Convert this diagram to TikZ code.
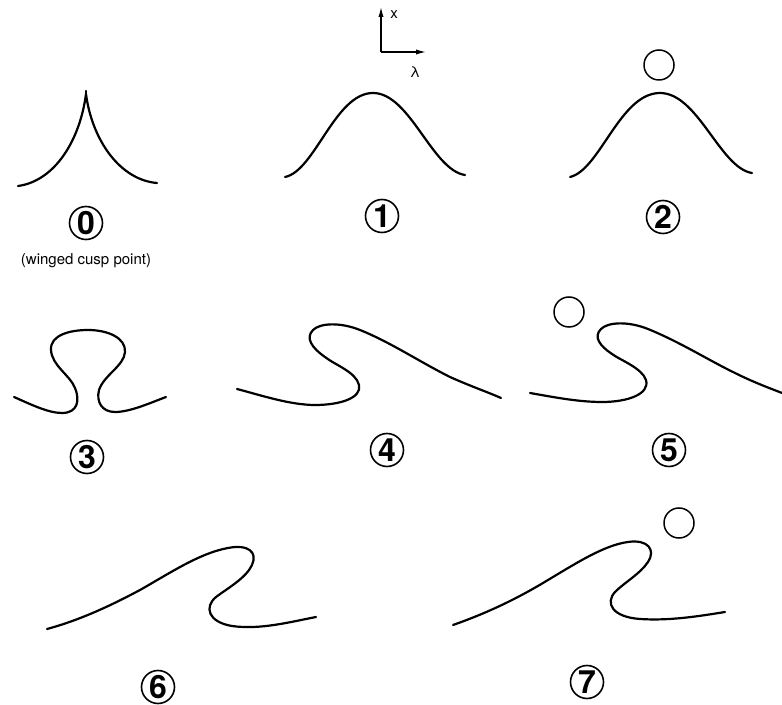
\documentclass[tikz,border=0pt]{standalone}
\usepackage{fontspec}
\setmainfont{TeX Gyre Heros}
\usetikzlibrary{arrows.meta}
\begin{document}
\begin{tikzpicture}[x=0.5pt,y=-0.5pt,
  curve/.style={line width=1.1pt, line cap=round, line join=round},
  ball/.style={circle, draw, line width=0.75pt, minimum size=15pt, inner sep=0pt},
  num/.style={circle, draw, line width=0.8pt, minimum size=16.5pt, inner sep=0pt, font=\bfseries\fontsize{16}{16}\selectfont},
  axis/.style={line width=0.6pt, -{Latex[length=5pt,width=2.6pt]}},
  small/.style={font=\fontsize{7.5}{8}\selectfont, inner sep=0pt}]
\useasboundingbox (0,0) rectangle (782,705);

% axes
\coordinate (o) at (381,52);
\coordinate (xa) at (381,7);
\coordinate (la) at (426,52);
\draw[axis] (o) -- (xa);
\draw[axis] (o) -- (la);
\node[small] (xl) at (394,15) {x};
\node[small] (ll) at (415,72) {λ};

% 0 : winged cusp
\draw[curve] (18,186) .. controls (55,181) and (80,140) .. (86,94)
  .. controls (92,140) and (120,180) .. (157,183);
\draw[curve] (86,94) -- (86,91);
\node[num] (n0) at (86,223) {0};
\node[small] (cap0) at (86,261) {(winged cusp point)};

% 1
\draw[curve] (285,177) .. controls (315,171) and (335,93) .. (373,93)
  .. controls (410,93) and (432,170) .. (465,175);
\node[num] (n1) at (382,216) {1};

% 2
\node[ball] (b2) at (659,65) {};
\draw[curve] (570,177) .. controls (600,170) and (620,93) .. (660,93)
  .. controls (698,93) and (720,168) .. (752,173);
\node[num] (n2) at (663,217) {2};

% 3
\draw[curve] (14,397) .. controls (30,404) and (48,413) .. (62,413)
  .. controls (78,413) and (80,400) .. (75,388)
  .. controls (70,375) and (52,366) .. (51,350)
  .. controls (50,335) and (70,330) .. (88,330)
  .. controls (108,330) and (126,338) .. (125,352)
  .. controls (124,366) and (104,375) .. (99,390)
  .. controls (96,402) and (102,412) .. (115,412)
  .. controls (130,412) and (150,403) .. (166,397);
\node[num] (n3) at (87,457) {3};

% 4
\draw[curve] (237,389) .. controls (260,395) and (290,405) .. (315,405)
  .. controls (340,405) and (362,398) .. (359,385)
  .. controls (356,372) and (335,365) .. (325,357)
  .. controls (312,348) and (305,338) .. (313,330)
  .. controls (320,323) and (340,322) .. (360,330)
  .. controls (390,342) and (420,362) .. (450,377)
  .. controls (470,386) and (490,393) .. (501,398);
\node[num] (n4) at (387,450) {4};

% 5
\node[ball] (b5) at (569,312) {};
\draw[curve] (530,393) .. controls (553,397) and (578,402) .. (602,402)
  .. controls (628,402) and (650,394) .. (646,380)
  .. controls (642,368) and (620,360) .. (612,354)
  .. controls (600,346) and (593,337) .. (601,329)
  .. controls (608,322) and (628,321) .. (648,329)
  .. controls (680,342) and (710,361) .. (735,373)
  .. controls (755,383) and (772,389) .. (782,393);
\node[num] (n5) at (669,450) {5};

% 6
\draw[curve] (47,629) .. controls (80,620) and (110,606) .. (140,590)
  .. controls (170,573) and (200,553) .. (228,548)
  .. controls (248,544) and (258,552) .. (252,565)
  .. controls (246,578) and (228,588) .. (216,597)
  .. controls (204,607) and (208,622) .. (232,626)
  .. controls (260,630) and (290,622) .. (316,617);
\node[num] (n6) at (158,687) {6};

% 7
\node[ball] (b7) at (679,523) {};
\draw[curve] (453,625) .. controls (490,612) and (520,597) .. (548,580)
  .. controls (578,562) and (605,545) .. (628,542)
  .. controls (648,539) and (656,550) .. (648,562)
  .. controls (640,574) and (625,582) .. (615,592)
  .. controls (605,603) and (612,617) .. (640,619)
  .. controls (670,621) and (700,616) .. (725,612);
\node[num] (n7) at (587,682) {7};
\end{tikzpicture}
\end{document}
